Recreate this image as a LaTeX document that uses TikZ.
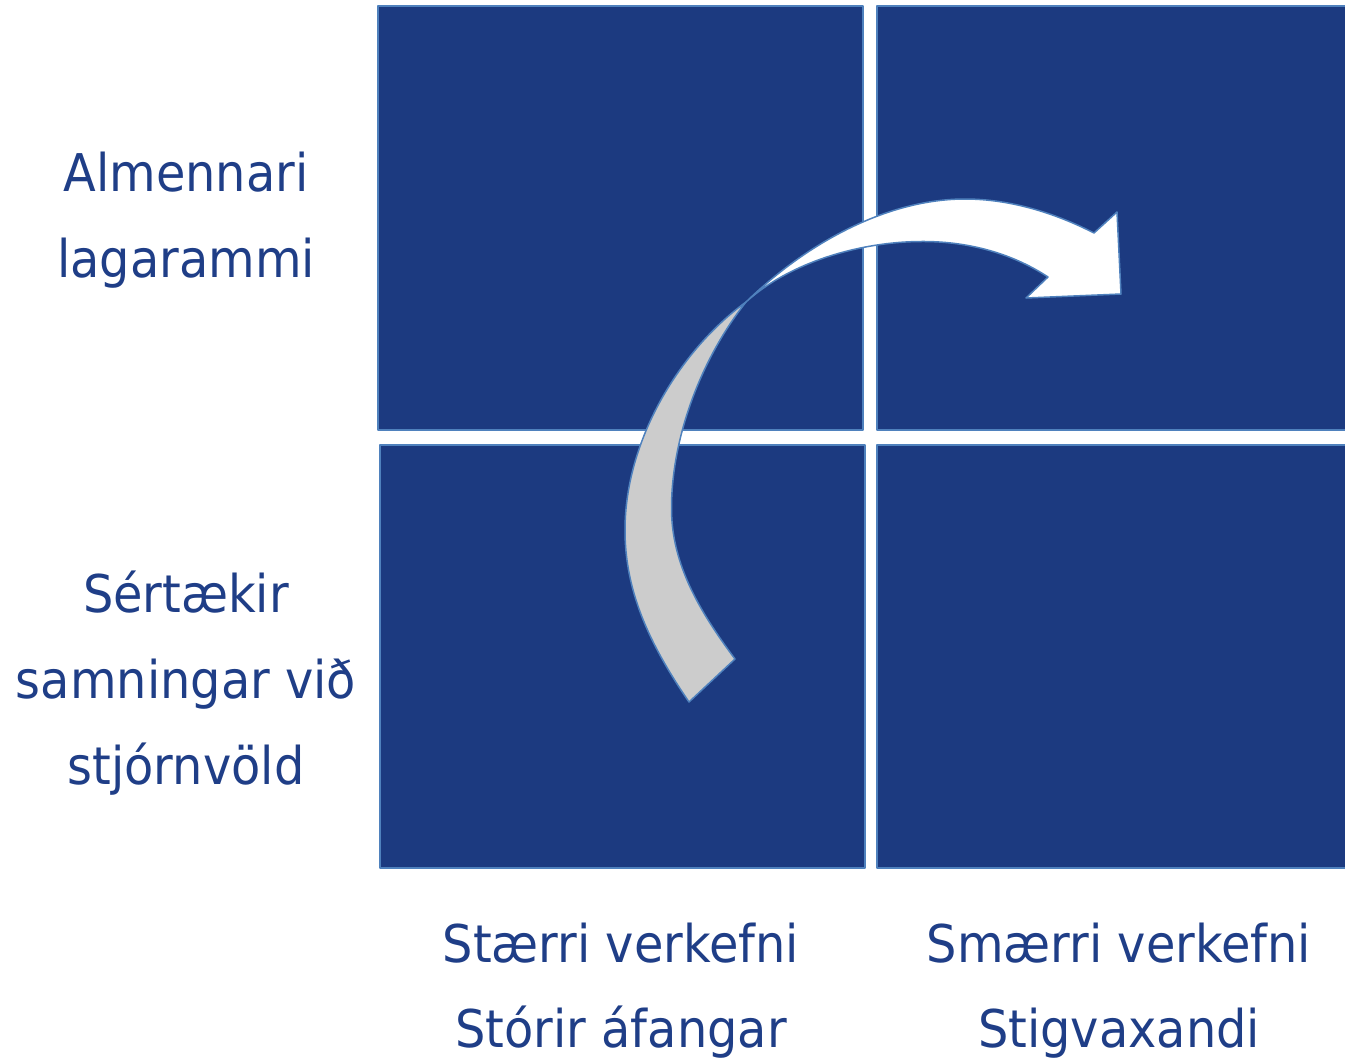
\documentclass[tikz,border=0pt]{standalone}
\usepackage{fontspec}
\setmainfont{DejaVu Sans}[FakeStretch=0.92]
\definecolor{navy}{RGB}{28,58,128}
\definecolor{rim}{RGB}{79,129,189}
\definecolor{txt}{RGB}{31,62,135}
\definecolor{band}{RGB}{204,204,204}
\begin{document}
\begin{tikzpicture}[x=1pt, y=-1pt, line join=round,
	cell/.style={fill=navy, draw=rim, line width=1.5pt},
	lbl/.style={text=txt, font=\fontsize{52}{60}\selectfont, anchor=base, inner sep=0pt},
	back/.style={fill=band, draw=rim, line width=1.5pt},
	front/.style={fill=white, draw=rim, line width=1.5pt}]
	\useasboundingbox (0,0) rectangle (1345,1058);
	\clip (0,0) rectangle (1345,1058);
	% reitir
	\draw[cell] (378,6) rectangle (863,430);
	\draw[cell] (877,6) rectangle (1360,430);
	\draw[cell] (380,445) rectangle (865,868);
	\draw[cell] (877,445) rectangle (1360,868);
	% boginn ör: bakhlið (grá) og framhlið (hvít)
	\coordinate (kross) at (746,302);
	\filldraw[back] (689,702) -- (735,659)
		.. controls (700,612) and (672,565) .. (671.5,510)
		.. controls (671,440) and (700,360) .. (kross)
		.. controls (680,350) and (625,440) .. (625,530)
		.. controls (625,590) and (648,642) .. cycle;
	\filldraw[front] (kross)
		.. controls (810,240) and (890,199) .. (965,199)
		.. controls (1010,199) and (1055,213) .. (1094,233)
		-- (1117,212) -- (1121,294) -- (1026,298) -- (1048,277)
		.. controls (1010,252) and (965,241) .. (920,241.5)
		.. controls (860,242) and (790,262) .. cycle;
	% texti
	\node[lbl] (almennari) at (186,191) {Almennari};
	\node[lbl] (lagarammi) at (186,277) {lagarammi};
	\node[lbl] (sertaekir) at (186,612) {Sértækir};
	\node[lbl] (samningar) at (186,698) {samningar við};
	\node[lbl] (stjornvold) at (186,784) {stjórnvöld};
	\node[lbl] (staerri) at (621,962) {Stærri verkefni};
	\node[lbl] (storir) at (621,1047) {Stórir áfangar};
	\node[lbl] (smaerri) at (1119,962) {Smærri verkefni};
	\node[lbl] (stigvaxandi) at (1119,1047) {Stigvaxandi};
\end{tikzpicture}
\end{document}
